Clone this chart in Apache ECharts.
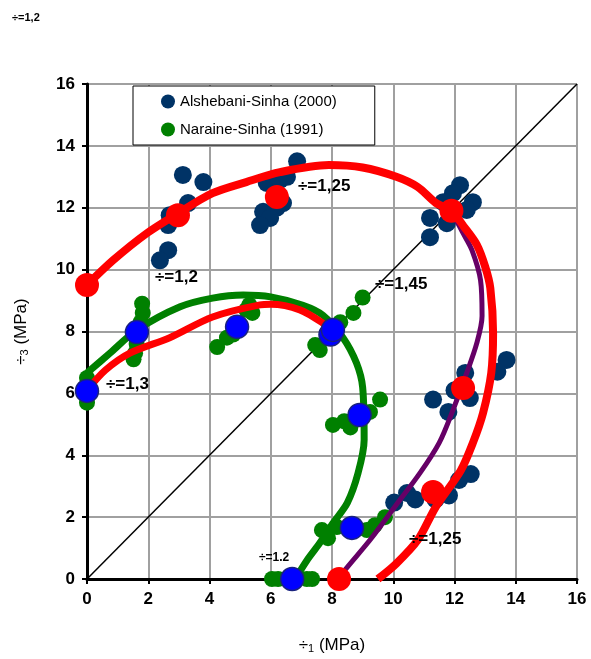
<!DOCTYPE html>
<html>
<head>
<meta charset="utf-8">
<script src="https://cdn.jsdelivr.net/npm/echarts@6/dist/echarts.min.js"></script>
<style>html,body{margin:0;padding:0;background:#fff}#c{width:591px;height:659px}</style>
</head>
<body>
<div id="c"></div>
<script>
// Alshebani-Sinha (2000) test points [sigma1, sigma3]
var alshebani = [
  [3.13,13.06],[3.8,12.83],[3.3,12.15],[2.7,11.76],[2.65,11.44],[2.65,10.63],[2.38,10.3],
  [6.86,13.5],[5.87,12.8],[6.3,12.9],[6.53,13.0],[6.4,12.15],[6.2,12.0],[5.75,11.87],[5.98,11.67],[5.65,11.44],
  [12.18,12.73],[11.95,12.47],[12.6,12.18],[11.63,12.18],[11.2,11.67],[11.2,11.05],[12.4,11.93],[11.75,11.5],
  [13.7,7.08],[13.4,6.7],[12.35,6.66],[12.0,6.1],[12.5,5.85],[11.3,5.8],[11.8,5.4],
  [10.03,2.47],[10.45,2.78],[10.72,2.57],[11.38,2.57],[11.82,2.7],[12.15,3.2],[12.53,3.39]
];
// Naraine-Sinha (1991) test points
var naraine = [
  [0,6.5],[0,5.7],
  [1.8,8.9],[1.82,8.6],[1.75,8.3],[1.62,7.6],[1.57,7.3],[1.52,7.1],
  [4.25,7.5],[4.57,7.8],[4.77,7.9],[5.2,8.7],[5.3,8.86],[5.4,8.6],
  [9.0,9.1],[8.7,8.6],[8.27,8.3],[7.45,7.56],[7.6,7.4],
  [8.03,4.98],[8.4,5.1],[8.6,4.9],[9.24,5.4],[9.57,5.8],
  [7.67,1.58],[7.87,1.32],[8.16,1.68],[9.14,1.58],[9.4,1.74],[9.73,2.0],
  [6.04,0],[6.24,0],[7.18,0],[7.35,0]
];
// model key points
var redPoints = [[0,9.5],[2.97,11.76],[6.2,12.35],[11.9,11.9],[12.28,6.17],[11.3,2.81],[8.23,0]];
var bluePoints = [[0,6.08],[1.63,7.98],[4.9,8.15],[7.95,7.9],[8.03,8.05],[8.9,5.3],[8.65,1.65],[6.7,0]];
// model curves
var redOuter = [[0,9.5],[0.85,10.3],[1.96,11.18],[2.94,11.8],[4.1,12.47],[5.2,12.83],[6.3,13.15],[7.9,13.38],[9.0,13.3],[10.1,13.0],[10.8,12.67],[11.4,12.15],[11.9,11.9],[12.3,11.4],[12.73,10.8],[13.0,10.1],[13.17,9.4],[13.26,7.95],[13.2,6.66],[12.93,5.36],[12.6,4.4],[12.2,3.5],[11.4,2.35],[10.8,1.26],[10.1,0.5],[9.5,0]];
var purpleCurve = [[8.23,0],[8.43,0.3],[9.24,1.26],[10.1,2.4],[10.87,3.42],[11.5,4.4],[11.95,5.46],[12.4,6.66],[12.73,7.63],[12.9,8.5],[12.85,9.66],[12.57,10.63],[12.28,11.18],[11.9,11.9]];
var redInner = [[0,6.1],[0.6,6.75],[1.4,7.3],[2.7,7.8],[4.1,8.47],[5.65,8.86],[6.0,8.88],[6.95,8.7],[7.7,8.27],[8.0,8.0]];
var greenCurve = [[0,6.66],[0.75,7.3],[1.63,8.05],[3.04,8.8],[4.1,9.08],[5.1,9.18],[6.0,9.12],[7.05,8.85],[7.7,8.53],[8.36,7.8],[8.8,6.98],[9.0,6.2],[9.05,4.5],[8.85,3.42],[8.5,2.46],[8.03,1.8],[7.6,1.16],[7.18,0.6],[6.8,0]];
var diagonal = [[0,0],[16,16]];
var ticks = [0,2,4,6,8,10,12,14,16];

var chart = echarts.init(document.getElementById('c'));
var FONT = 'Liberation Sans, Arial, sans-serif';
var axisCommon = {
  min: 0, max: 16, interval: 2,
  axisLine: {show: true, onZero: false, lineStyle: {color: '#000', width: 3}},
  axisTick: {show: true, length: 5, lineStyle: {color: '#000', width: 2}},
  splitLine: {show: true, lineStyle: {color: '#a0a0a0', width: 2}},
  axisLabel: {color: '#000', fontWeight: 'bold', fontSize: 17, fontFamily: FONT,
    formatter: function (v) { return ticks.indexOf(v) >= 0 ? String(v) : ''; }},
  nameLocation: 'middle',
  nameTextStyle: {color: '#000', fontSize: 17, fontFamily: FONT,
    rich: {sub: {fontSize: 11, color: '#000', fontFamily: FONT, verticalAlign: 'bottom', padding: [6,0,0,0]}}}
};
var opt = {
  animation: false,
  backgroundColor: '#fff',
  grid: {left: 87, right: 14, top: 84, bottom: 80, containLabel: false},
  xAxis: Object.assign({}, axisCommon, {type: 'value', name: '÷{sub|1} (MPa)', nameGap: 58, axisLabel: Object.assign({}, axisCommon.axisLabel, {margin: 12})}),
  yAxis: Object.assign({}, axisCommon, {type: 'value', name: '÷{sub|3} (MPa)', nameGap: 57, axisLabel: Object.assign({}, axisCommon.axisLabel, {margin: 12})}),
  legend: {
    left: 133, top: 86, orient: 'vertical',
    data: ['Alshebani-Sinha (2000)', 'Naraine-Sinha (1991)'],
    backgroundColor: '#fff', borderColor: '#000', borderWidth: 1,
    padding: [8, 38, 8, 28], itemGap: 13, itemWidth: 14, itemHeight: 14,
    textStyle: {fontSize: 15, color: '#000', fontFamily: FONT}
  },
  series: [
    {type: 'line', data: diagonal, symbol: 'none', lineStyle: {color: '#000', width: 1.5}, z: 1, silent: true},
    {name: 'Alshebani-Sinha (2000)', type: 'scatter', data: alshebani, symbol: 'circle', symbolSize: 18, itemStyle: {color: '#003366', opacity: 1}, z: 2},
    {name: 'Naraine-Sinha (1991)', type: 'scatter', data: naraine, symbol: 'circle', symbolSize: 16, itemStyle: {color: '#008000', opacity: 1}, z: 2},
    {type: 'line', data: greenCurve, smooth: 0.3, symbol: 'none', lineStyle: {color: '#008000', width: 7}, z: 3},
    {type: 'line', data: redInner, smooth: 0.3, symbol: 'none', lineStyle: {color: '#ff0000', width: 7}, z: 3},
    {type: 'line', data: purpleCurve, smooth: 0.3, symbol: 'none', lineStyle: {color: '#660066', width: 5}, z: 3},
    {type: 'line', data: redOuter, smooth: 0.3, symbol: 'none', lineStyle: {color: '#ff0000', width: 8}, z: 4},
    {type: 'scatter', data: redPoints, symbol: 'circle', symbolSize: 24, itemStyle: {color: '#ff0000', opacity: 1}, z: 5},
    {type: 'scatter', data: bluePoints, symbol: 'circle', symbolSize: 23, itemStyle: {color: '#0000ff', borderColor: '#1a237e', borderWidth: 1.5, opacity: 1}, z: 6}
  ],
  graphic: [
    {type: 'text', left: 12, top: 12, style: {text: '÷=1,2', fontSize: 11, fontWeight: 'bold', fill: '#000', fontFamily: FONT}},
    {type: 'text', left: 298, top: 178, z: 100, style: {text: '÷=1,25', fontSize: 17, fontWeight: 'bold', fill: '#000', fontFamily: FONT}},
    {type: 'text', left: 155, top: 269, z: 100, style: {text: '÷=1,2', fontSize: 17, fontWeight: 'bold', fill: '#000', fontFamily: FONT}},
    {type: 'text', left: 375, top: 276, z: 100, style: {text: '÷=1,45', fontSize: 17, fontWeight: 'bold', fill: '#000', fontFamily: FONT}},
    {type: 'text', left: 106, top: 376, z: 100, style: {text: '÷=1,3', fontSize: 17, fontWeight: 'bold', fill: '#000', fontFamily: FONT}},
    {type: 'text', left: 259, top: 552, z: 100, style: {text: '÷=1.2', fontSize: 12, fontWeight: 'bold', fill: '#000', fontFamily: FONT}},
    {type: 'text', left: 409, top: 531, z: 100, style: {text: '÷=1,25', fontSize: 17, fontWeight: 'bold', fill: '#000', fontFamily: FONT}}
  ]
};
chart.setOption(opt);
</script>
</body>
</html>
